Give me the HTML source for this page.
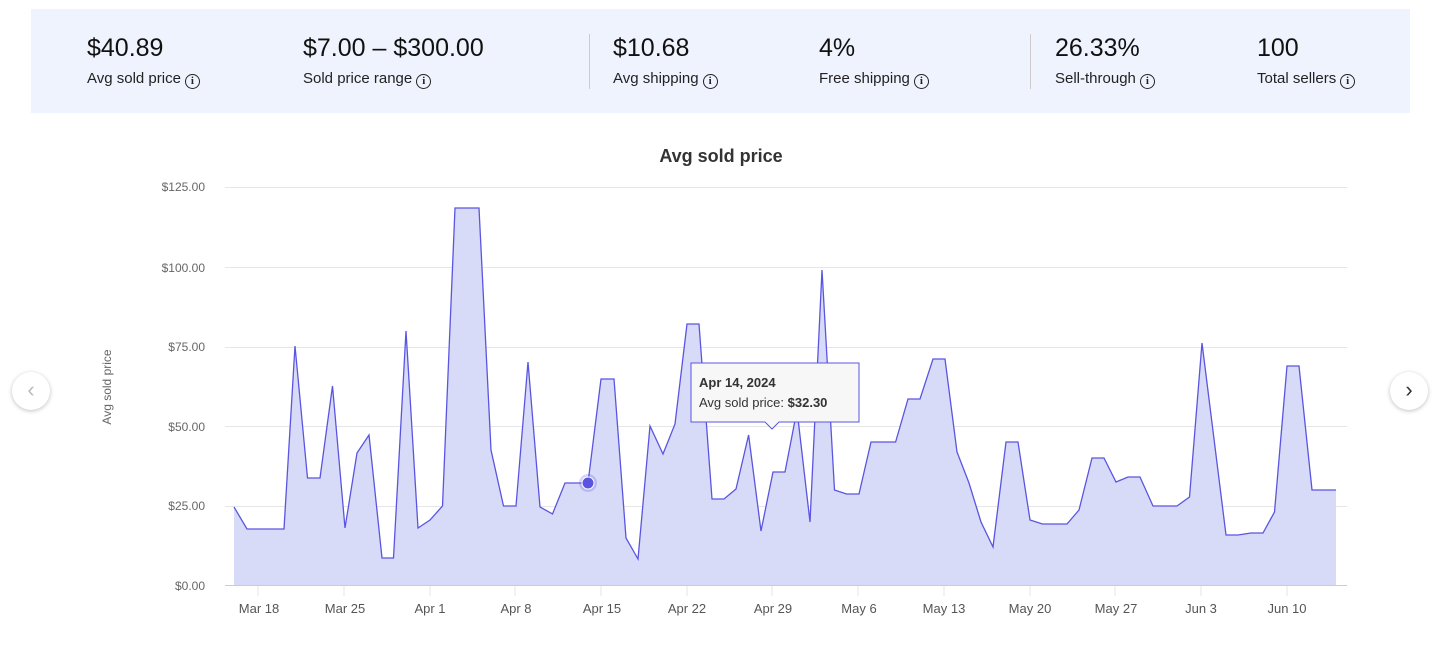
<!DOCTYPE html>
<html><head><meta charset="utf-8"><style>
body{margin:0;width:1442px;height:645px;background:#fff;font-family:"Liberation Sans",sans-serif;position:relative;overflow:hidden;color:#191919}
.hdr{position:absolute;left:31px;top:9px;width:1379px;height:104px;background:#eff3fe}
.v{position:absolute;top:33px;font-size:25px;line-height:30px;color:#111}
.l{position:absolute;top:69px;font-size:15px;line-height:20px;color:#222}
.i{display:inline-block;width:13px;height:13px;border:1.6px solid #222;border-radius:50%;font-size:11px;line-height:13px;text-align:center;font-weight:bold;vertical-align:-1px;margin-left:4px;font-family:"Liberation Serif",serif}
.sep{position:absolute;top:34px;width:1px;height:55px;background:#ccc}
.nav{position:absolute;width:38px;height:38px;border-radius:50%;background:#fff;box-shadow:0 1px 4px rgba(0,0,0,.25);font-size:22px;line-height:36px;text-align:center}
</style></head><body>
<div class="hdr"></div>
<div class="v" style="left:87px">$40.89</div><div class="l" style="left:87px">Avg sold price<span class="i">i</span></div>
<div class="v" style="left:303px">$7.00 – $300.00</div><div class="l" style="left:303px">Sold price range<span class="i">i</span></div>
<div class="sep" style="left:589px"></div>
<div class="v" style="left:613px">$10.68</div><div class="l" style="left:613px">Avg shipping<span class="i">i</span></div>
<div class="v" style="left:819px">4%</div><div class="l" style="left:819px">Free shipping<span class="i">i</span></div>
<div class="sep" style="left:1030px"></div>
<div class="v" style="left:1055px">26.33%</div><div class="l" style="left:1055px">Sell-through<span class="i">i</span></div>
<div class="v" style="left:1257px">100</div><div class="l" style="left:1257px">Total sellers<span class="i">i</span></div>
<div class="nav" style="left:12px;top:372px;color:#bbb">‹</div>
<div class="nav" style="left:1390px;top:372px;color:#333">›</div>
<svg width="1442" height="645" style="position:absolute;left:0;top:0" font-family="Liberation Sans, sans-serif">
<text x="721" y="162" text-anchor="middle" font-size="18" font-weight="bold" fill="#333">Avg sold price</text>
<g stroke="#e6e6e6" stroke-width="1">
<line x1="225" x2="1347" y1="187.5" y2="187.5"/><line x1="225" x2="1347" y1="267.5" y2="267.5"/><line x1="225" x2="1347" y1="347.5" y2="347.5"/><line x1="225" x2="1347" y1="426.5" y2="426.5"/><line x1="225" x2="1347" y1="506.5" y2="506.5"/>
</g>
<g font-size="12" fill="#666" text-anchor="end">
<text x="205" y="191">$125.00</text><text x="205" y="272">$100.00</text><text x="205" y="351">$75.00</text><text x="205" y="431">$50.00</text><text x="205" y="510">$25.00</text><text x="205" y="590">$0.00</text>
</g>
<text transform="translate(111,387) rotate(-90)" text-anchor="middle" font-size="12" fill="#666">Avg sold price</text>
<polygon fill="#d8dbf8" points="234,585 234,507 247,529 284,529 295,346 307.5,478 320,478 332.5,386 345,528 357,453 369,435 382,558 393.5,558 406,331 418,528 430,520 442.5,506 455,208 479,208 491,450 503.5,506 516,506 528,362 540,507 552.5,514 565,483 588,483 601,379 614,379 626,538 638,559 650,426 663,454 675,424 687,324 699,324 712,499 724,499 736,489 748.6,435 761,531 773,472 785,472 797,410 810,522 822,270 834.5,490 846.5,494 859,494 871,442 895.6,442 908,399 920,399 933,359 945,359 957,452 969,483 981,522 993,547 1006,442 1018,442 1030,520 1042.5,524 1067,524 1079,510 1092,458 1104,458 1116,482 1128,477 1140,477 1153,506 1177,506 1189.5,497 1202,343 1226,535 1238,535 1251,533 1263,533 1274.5,512 1287,366 1299,366 1312,490 1336,490 1336,585"/>
<polyline fill="none" stroke="#5a55e0" stroke-width="1.3" points="234,507 247,529 284,529 295,346 307.5,478 320,478 332.5,386 345,528 357,453 369,435 382,558 393.5,558 406,331 418,528 430,520 442.5,506 455,208 479,208 491,450 503.5,506 516,506 528,362 540,507 552.5,514 565,483 588,483 601,379 614,379 626,538 638,559 650,426 663,454 675,424 687,324 699,324 712,499 724,499 736,489 748.6,435 761,531 773,472 785,472 797,410 810,522 822,270 834.5,490 846.5,494 859,494 871,442 895.6,442 908,399 920,399 933,359 945,359 957,452 969,483 981,522 993,547 1006,442 1018,442 1030,520 1042.5,524 1067,524 1079,510 1092,458 1104,458 1116,482 1128,477 1140,477 1153,506 1177,506 1189.5,497 1202,343 1226,535 1238,535 1251,533 1263,533 1274.5,512 1287,366 1299,366 1312,490 1336,490"/>
<line x1="225" x2="1347" y1="585.5" y2="585.5" stroke="#ccc"/>
<g stroke="#e4e4e4"><line x1="258" x2="258" y1="586" y2="596"/><line x1="344" x2="344" y1="586" y2="596"/><line x1="430" x2="430" y1="586" y2="596"/><line x1="515" x2="515" y1="586" y2="596"/><line x1="601" x2="601" y1="586" y2="596"/><line x1="687" x2="687" y1="586" y2="596"/><line x1="772" x2="772" y1="586" y2="596"/><line x1="858" x2="858" y1="586" y2="596"/><line x1="944" x2="944" y1="586" y2="596"/><line x1="1030" x2="1030" y1="586" y2="596"/><line x1="1115" x2="1115" y1="586" y2="596"/><line x1="1201" x2="1201" y1="586" y2="596"/><line x1="1287" x2="1287" y1="586" y2="596"/></g>
<g font-size="13" fill="#555" text-anchor="middle">
<text x="259" y="613">Mar 18</text><text x="345" y="613">Mar 25</text><text x="430" y="613">Apr 1</text><text x="516" y="613">Apr 8</text><text x="602" y="613">Apr 15</text><text x="687" y="613">Apr 22</text><text x="773" y="613">Apr 29</text><text x="859" y="613">May 6</text><text x="944" y="613">May 13</text><text x="1030" y="613">May 20</text><text x="1116" y="613">May 27</text><text x="1201" y="613">Jun 3</text><text x="1287" y="613">Jun 10</text>
</g>
<circle cx="588" cy="483" r="9" fill="#5a55e0" opacity="0.25"/>
<circle cx="588" cy="483" r="6" fill="#5a55e0" stroke="#fff" stroke-width="1"/>
<g>
<path d="M691,363 H859 V422 H779 L772,429 L765,422 H691 Z" fill="#f7f7f7" stroke="#5a55e0" stroke-width="1"/>
<text x="699" y="387" font-size="13" font-weight="bold" fill="#333">Apr 14, 2024</text>
<text x="699" y="407" font-size="13" fill="#333">Avg sold price: <tspan font-weight="bold">$32.30</tspan></text>
</g>
</svg>
</body></html>
